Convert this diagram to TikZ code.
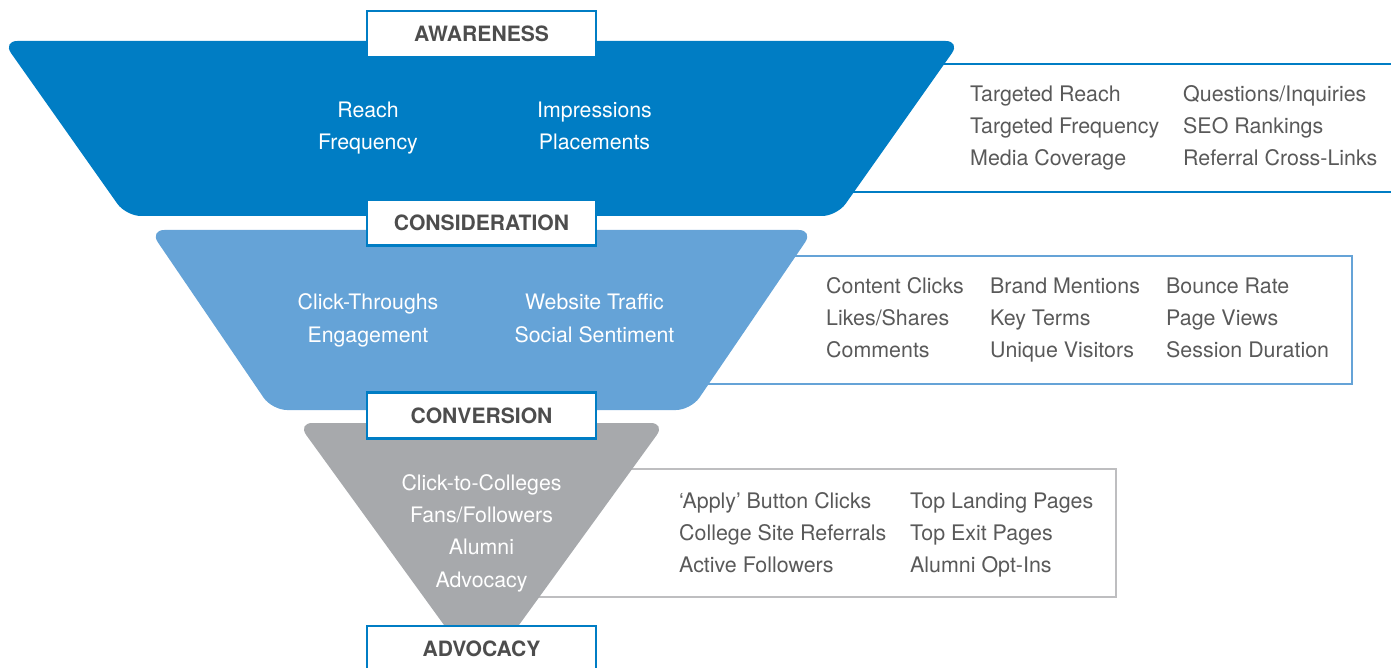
\documentclass[tikz,border=0pt]{standalone}
\usepackage{fontspec}
\setmainfont{TeX Gyre Heros}
\definecolor{awblue}{RGB}{0,125,196}
\definecolor{coblue}{RGB}{101,163,215}
\definecolor{cvgray}{RGB}{167,169,172}
\definecolor{panelgray}{RGB}{190,190,192}
\definecolor{labeltext}{RGB}{77,77,77}
\definecolor{paneltext}{RGB}{89,89,89}
\tikzset{
  stagebox/.style={draw=awblue, line width=2.5pt, fill=white, minimum width=229pt, minimum height=46pt, inner sep=0pt,
    font=\fontsize{21.1}{24}\selectfont\bfseries, text=labeltext},
  intext/.style={font=\fontsize{21.3}{24}\selectfont, text=white, anchor=base, inner sep=0pt},
  ptext/.style={font=\fontsize{21.4}{24}\selectfont, text=paneltext, anchor=base west, inner sep=0pt},
  funnel/.style={rounded corners=15pt},
}
\begin{document}
\begin{tikzpicture}[x=1pt,y=-1pt]
\useasboundingbox (0,0) rectangle (1391,668);
% side panels
\draw[awblue, line width=2.5pt] (800,64) -- (1391,64);
\draw[awblue, line width=2.5pt] (800,192) -- (1391,192);
\draw[coblue, line width=2.5pt] (700,256) rectangle (1352,384);
\draw[panelgray, line width=2.5pt] (530,469) rectangle (1116,597);
% funnel shapes
\fill[awblue, funnel] (2.5,41) -- (960.5,41) -- (837,216) -- (126,216) -- cycle;
\fill[coblue, funnel] (149.5,230) -- (813.5,230) -- (691,410) -- (272,410) -- cycle;
\fill[cvgray, funnel] (297.5,423) -- (665.5,423) -- (504.5,645) -- (458.5,645) -- cycle;
% stage labels
\node[stagebox] (aw) at (481.5,34) {AWARENESS};
\node[stagebox] (co) at (481.5,222.5) {CONSIDERATION};
\node[stagebox] (cv) at (481.5,415.5) {CONVERSION};
\node[stagebox] (ad) at (481.5,649) {ADVOCACY};
% awareness inner
\node[intext] (a1) at (368,118) {Reach};
\node[intext] (a2) at (368,150) {Frequency};
\node[intext] (a3) at (594.5,118) {Impressions};
\node[intext] (a4) at (594.5,150) {Placements};
% consideration inner
\node[intext] (c1) at (368,309) {Click-Throughs};
\node[intext] (c2) at (368,342) {Engagement};
\node[intext] (c3) at (594.5,309) {Website Traffic};
\node[intext] (c4) at (594.5,342) {Social Sentiment};
% conversion inner
\node[intext] (v1) at (481.5,490) {Click-to-Colleges};
\node[intext] (v2) at (481.5,522) {Fans/Followers};
\node[intext] (v3) at (481.5,554.5) {Alumni};
\node[intext] (v4) at (481.5,587) {Advocacy};
% awareness panel
\node[ptext] (p1) at (970,101.5) {Targeted Reach};
\node[ptext] (p2) at (970,133.5) {Targeted Frequency};
\node[ptext] (p3) at (970,166) {Media Coverage};
\node[ptext] (p4) at (1183,101.5) {Questions/Inquiries};
\node[ptext] (p5) at (1183,133.5) {SEO Rankings};
\node[ptext] (p6) at (1183,166) {Referral Cross-Links};
% consideration panel
\node[ptext] (q1) at (826,293) {Content Clicks};
\node[ptext] (q2) at (826,325) {Likes/Shares};
\node[ptext] (q3) at (826,357) {Comments};
\node[ptext] (q4) at (990,293) {Brand Mentions};
\node[ptext] (q5) at (990,325) {Key Terms};
\node[ptext] (q6) at (990,357) {Unique Visitors};
\node[ptext] (q7) at (1166,293) {Bounce Rate};
\node[ptext] (q8) at (1166,325) {Page Views};
\node[ptext] (q9) at (1166,357) {Session Duration};
% conversion panel
\node[ptext] (r1) at (679,508) {‘Apply’ Button Clicks};
\node[ptext] (r2) at (679,540) {College Site Referrals};
\node[ptext] (r3) at (679,572) {Active Followers};
\node[ptext] (r4) at (910,508) {Top Landing Pages};
\node[ptext] (r5) at (910,540) {Top Exit Pages};
\node[ptext] (r6) at (910,572) {Alumni Opt-Ins};
\end{tikzpicture}
\end{document}
